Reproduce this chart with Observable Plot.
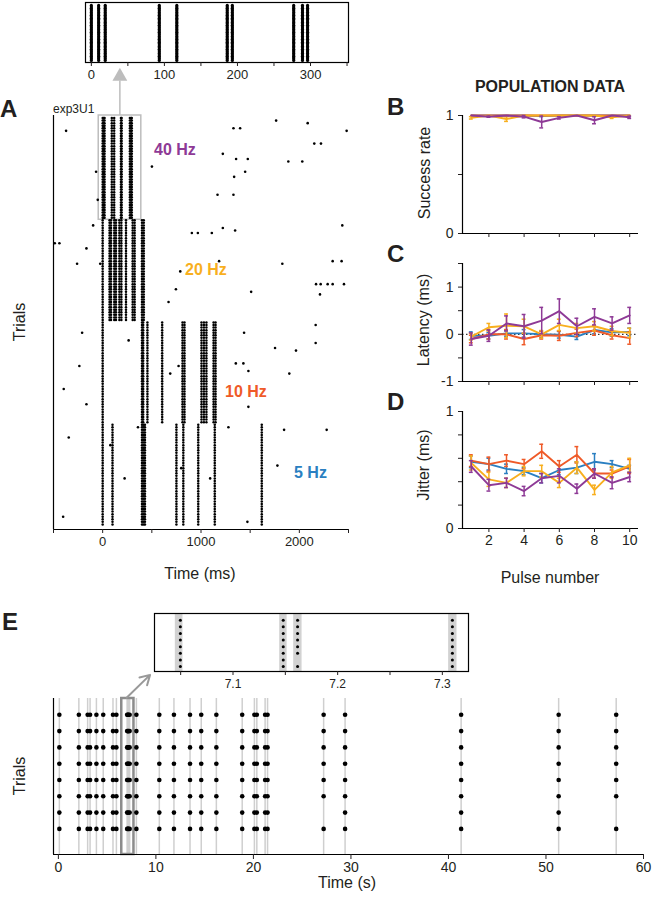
<!DOCTYPE html>
<html><head><meta charset="utf-8">
<script src="https://cdn.jsdelivr.net/npm/d3@7"></script>
<script src="https://cdn.jsdelivr.net/npm/@observablehq/plot@0.6"></script>
<style>
html,body{margin:0;padding:0;background:#fff;}
#wrap{position:relative;width:652px;height:901px;overflow:hidden;background:#fff;}
</style></head><body><div id="wrap"></div>
<script>
// ---------------- DATA ----------------
// Panel A raster: four stimulation blocks, spike-time columns (ms) repeated over the block's trials
const blockNames = ["40 Hz", "20 Hz", "10 Hz", "5 Hz"];
const blockFirstTrial = [1, 41, 81, 121];
const blockLastTrial = [40, 80, 120, 160];
const spikeCols40 = [0, 10, 19, 93, 117, 186, 193, 277, 289, 296];
const spikeCols20 = [0, 70, 85, 118, 135, 170, 190, 237, 305, 325, 400, 418];
const spikeCols10 = [0, 400, 412, 455, 605, 812, 832, 1005, 1030, 1055, 1128, 1148];
const spikeCols5 = [0, 100, 400, 415, 430, 750, 820, 972, 1140, 1618];
// isolated spikes in panel A (time ms, trial)
const strayTimes = [-372,-67,-50,-97,-487,-440,-165,-260,-25,501,789,745,670,1222,1168,1330,1222,1347,907,968,1110,1184,1330,1398,1764,2085,2481,2152,2220,1357,1476,1888,2030,1449,1337,2437,1827,2339,2430,2170,2217,2288,2339,2454,2210,1510,2166,1438,1753,2166,1966,1354,1431,1482,1898,1482,1279,1845,2278,1777,1472,-209,264,-237,687,772,-396,-165,-345,359,78,799,223,1093,-402];
const strayTrials = [6,22,33,43,50,50,52,58,58,20,61,68,73,15,31,31,44,45,46,46,46,57,5,5,2,3,6,11,11,17,17,18,18,22,24,43,58,57,57,66,66,66,66,66,70,69,82,85,91,89,92,97,97,100,101,114,122,123,123,137,159,85,88,98,101,98,107,113,126,122,129,138,142,142,157];
const aTickValues = [-500, 0, 500, 1000, 1500, 2000, 2500];
const aTickLabels = ["", "0", "", "1000", "", "2000", ""];
const aInsetTickValues = [0, 50, 100, 150, 200, 250, 300, 350];
const aInsetTickLabels = ["0", "", "100", "", "200", "", "300", ""];

// Population data (B, C, D): series order 5, 10, 20, 40 Hz
const seriesNames = ["5 Hz", "10 Hz", "20 Hz", "40 Hz"];
const seriesColors = ["#2a7fc1", "#ef5a28", "#f8af1e", "#8e3a96"];
const pulses = [1, 2, 3, 4, 5, 6, 7, 8, 9, 10];
const successMean = [
  [1, 1, 1, 1, 0.995, 1, 1, 1, 1, 1],
  [1, 1, 1, 1, 1, 1, 1, 1, 1, 1],
  [0.98, 1, 0.97, 1, 1, 1, 1, 1, 0.985, 1],
  [1, 0.99, 1, 0.99, 0.945, 0.98, 1, 0.96, 1, 0.985]
];
const successErr = [
  [0, 0, 0, 0, 0.005, 0, 0, 0, 0, 0],
  [0, 0, 0, 0, 0, 0, 0, 0, 0, 0],
  [0.01, 0, 0.02, 0, 0, 0, 0, 0, 0.01, 0],
  [0, 0.005, 0, 0.01, 0.05, 0.01, 0, 0.03, 0, 0.01]
];
const latencyMean = [
  [-0.03, -0.03, 0.02, 0.02, 0.0, -0.01, -0.05, 0.09, 0.04, 0.05],
  [-0.1, 0.0, 0.0, -0.1, -0.02, -0.03, 0.03, 0.08, -0.02, -0.08],
  [-0.05, 0.15, 0.18, 0.17, 0.0, 0.2, 0.13, 0.17, 0.07, 0.03],
  [-0.1, -0.03, 0.23, 0.17, 0.29, 0.49, 0.17, 0.37, 0.23, 0.4]
];
const latencyErr = [
  [0.08, 0.07, 0.06, 0.08, 0.07, 0.07, 0.06, 0.08, 0.08, 0.08],
  [0.08, 0.1, 0.1, 0.12, 0.08, 0.1, 0.08, 0.1, 0.08, 0.13],
  [0.07, 0.08, 0.25, 0.15, 0.08, 0.12, 0.1, 0.1, 0.1, 0.1],
  [0.13, 0.12, 0.16, 0.25, 0.28, 0.26, 0.17, 0.17, 0.14, 0.17]
];
const jitterMean = [
  [0.57, 0.55, 0.51, 0.49, 0.43, 0.5, 0.52, 0.57, 0.55, 0.51],
  [0.58, 0.55, 0.58, 0.55, 0.66, 0.53, 0.63, 0.47, 0.47, 0.53],
  [0.56, 0.42, 0.39, 0.49, 0.49, 0.39, 0.52, 0.33, 0.48, 0.54],
  [0.53, 0.37, 0.39, 0.32, 0.43, 0.45, 0.34, 0.47, 0.39, 0.44]
];
const jitterErr = [
  [0.05, 0.05, 0.04, 0.03, 0.04, 0.04, 0.05, 0.07, 0.03, 0.03],
  [0.05, 0.06, 0.05, 0.04, 0.06, 0.05, 0.07, 0.04, 0.03, 0.06],
  [0.06, 0.06, 0.04, 0.04, 0.05, 0.04, 0.05, 0.04, 0.05, 0.06],
  [0.05, 0.05, 0.04, 0.04, 0.04, 0.06, 0.04, 0.04, 0.05, 0.04]
];
const pulseTicks = [2, 4, 6, 8, 10];
const successTicks = [0, 0.5, 1], successTickLabels = ["0", "", "1"];
const latencyTicks = [-1, -0.5, 0, 0.5, 1, 1.5], latencyTickLabels = ["-1", "", "0", "", "1", ""];
const jitterTicks = [0, 0.2, 0.4, 0.6, 0.8, 1], jitterTickLabels = ["0", "", "", "", "", "1"];

// Panel E: spike times (s) in 8 trials
const eTrials = [1, 2, 3, 4, 5, 6, 7, 8];
const eSpikeTimes = [0.1, 2.1, 3.0, 3.25, 3.9, 4.6, 5.6, 5.95, 7.0497, 7.148, 7.1617, 7.3096, 8.0, 10.35, 11.85, 13.5, 14.65, 16.2, 18.85, 20.1, 20.35, 21.2, 21.45, 27.2, 29.4, 41.3, 51.3, 57.2];
const eMissingTime = [7.1617, 27.2, 57.2];
const eMissingTrial = [7, 7, 7];
const eTicks = [0, 10, 20, 30, 40, 50, 60];
const eInsetBandStart = [7.0449, 7.1446, 7.158, 7.306];
const eInsetBandEnd = [7.0522, 7.1517, 7.166, 7.314];
const eInsetTickValues = [7.05, 7.1, 7.15, 7.2, 7.25, 7.3];
const eInsetTickLabels = ["", "7.1", "", "7.2", "", "7.3"];

// ---------------- BUILD ----------------
const FONT = '"Liberation Sans", Arial, Helvetica, sans-serif';
const S = `background:transparent;overflow:visible;font-family:${FONT};color:#231f20;`;
const wrap = document.getElementById("wrap");
function place(el, left, top) {
  el.style.position = "absolute"; el.style.left = left + "px"; el.style.top = top + "px";
  wrap.appendChild(el);
}
const mapOf = (vals, labs) => new Map(vals.map((v, i) => [v, labs[i]]));

// raster A rows
const blockCols = [spikeCols40, spikeCols20, spikeCols10, spikeCols5];
const aDots = [];
blockCols.forEach((cols, b) => {
  for (let tr = blockFirstTrial[b]; tr <= blockLastTrial[b]; tr++)
    for (const t of cols) aDots.push({t, tr});
});
const strays = strayTimes.map((t, i) => ({t, tr: strayTrials[i]}));
const insetDots = aDots.filter(d => d.tr <= blockLastTrial[0]);

// Top inset (zoom of 40 Hz block)
const aTickMap = mapOf(aInsetTickValues, aInsetTickLabels);
place(Plot.plot({
  width: 300, height: 85, marginLeft: 25, marginRight: 12, marginTop: 2, marginBottom: 23, style: S,
  x: {domain: [-8, 352]}, y: {domain: [41.4, -1.1], axis: null},
  marks: [
    Plot.dot(insetDots, {x: "t", y: "tr", r: 1.6, fill: "#000", stroke: "none"}),
    Plot.frame({stroke: "#000", strokeWidth: 1.2}),
    Plot.axisX({ticks: aInsetTickValues, tickFormat: d => aTickMap.get(d) ?? "", tickSize: 4, tickPadding: 3, fontSize: 13, label: null})
  ]
}), 60, 0);

// Panel A
const aMap = mapOf(aTickValues, aTickLabels);
place(Plot.plot({
  width: 360, height: 490, marginLeft: 53, marginRight: 12, marginTop: 15, marginBottom: 61, style: S,
  x: {domain: [-500, 2500]}, y: {domain: [162, 0], axis: null},
  marks: [
    Plot.rect([0], {x1: -40, x2: 393, y1: 0, y2: 40.8, fill: "none", stroke: "#bdbdbd", strokeWidth: 1.5}),
    Plot.ruleX([175], {y1: -13.5, y2: 0, stroke: "#bdbdbd", strokeWidth: 1.5}),
    Plot.dot([175], {x: d => d, y: -15.3, symbol: "triangle", r: 5.5, fill: "#bdbdbd", stroke: "none"}),
    Plot.dot(aDots, {x: "t", y: "tr", r: 1.25, fill: "#000", stroke: "none"}),
    Plot.dot(strays, {x: "t", y: "tr", r: 1.3, fill: "#000", stroke: "none"}),
    Plot.ruleY([162], {stroke: "#000", strokeWidth: 1.2}),
    Plot.ruleX([-500], {stroke: "#000", strokeWidth: 1.2}),
    Plot.axisX({ticks: aTickValues, tickFormat: d => aMap.get(d) ?? "", tickSize: 4, tickPadding: 3, fontSize: 13, label: null})
  ]
}), 0, 100);

// Population panels
function popPanel(cfg) {
  const marks = [];
  if (cfg.zeroLine) marks.push(Plot.ruleY([0], {stroke: "#000", strokeWidth: 1, strokeDasharray: "1.5,2.5"}));
  seriesNames.forEach((name, k) => {
    const rows = pulses.map((p, i) => ({p, v: cfg.values[k][i], e: cfg.errors[k][i]}));
    const eb = rows.filter(d => d.e > 0);
    const c = seriesColors[k];
    marks.push(
      Plot.ruleX(eb, {x: "p", y1: d => d.v - d.e, y2: d => d.v + d.e, stroke: c, strokeWidth: 1.5}),
      Plot.ruleY(eb, {y: d => d.v + d.e, x1: d => d.p - 0.11, x2: d => d.p + 0.11, stroke: c, strokeWidth: 1.5}),
      Plot.ruleY(eb, {y: d => d.v - d.e, x1: d => d.p - 0.11, x2: d => d.p + 0.11, stroke: c, strokeWidth: 1.5}),
      Plot.line(rows, {x: "p", y: "v", stroke: c, strokeWidth: 1.9})
    );
  });
  const ym = mapOf(cfg.yTicks, cfg.yLabels);
  marks.push(
    Plot.ruleX([0.5], {stroke: "#000", strokeWidth: 1.2}),
    Plot.ruleY([cfg.yDomain[0]], {stroke: "#000", strokeWidth: 1.2}),
    Plot.axisY({ticks: cfg.yTicks, tickFormat: d => ym.get(d) ?? "", tickSize: 4, tickPadding: 5, fontSize: 14, label: null}),
    Plot.axisX({ticks: pulseTicks, tickFormat: d => cfg.xLabels ? String(d) : "", tickSize: 4, tickPadding: 3, fontSize: 14, label: null})
  );
  return Plot.plot({
    width: 272, height: cfg.height, marginLeft: 82, marginRight: 14, marginTop: cfg.mt, marginBottom: cfg.mb, style: S,
    x: {domain: [0.5, 10.5]}, y: {domain: cfg.yDomain}, marks
  });
}
place(popPanel({height: 140, mt: 15, mb: 7, yDomain: [0, 1], yTicks: successTicks, yLabels: successTickLabels,
  values: successMean, errors: successErr}), 380, 100);
place(popPanel({height: 133, mt: 8, mb: 7, yDomain: [-1, 1.5], yTicks: latencyTicks, yLabels: latencyTickLabels,
  values: latencyMean, errors: latencyErr, zeroLine: true}), 380, 255);
place(popPanel({height: 150, mt: 11, mb: 22, yDomain: [0, 1], yTicks: jitterTicks, yLabels: jitterTickLabels,
  values: jitterMean, errors: jitterErr, xLabels: true}), 380, 400);

// Panel E
const missing = new Set(eMissingTime.map((t, i) => t + "|" + eMissingTrial[i]));
const eDots = [];
for (const t of eSpikeTimes) for (const tr of eTrials) if (!missing.has(t + "|" + tr)) eDots.push({t, tr});

const eiMap = mapOf(eInsetTickValues, eInsetTickLabels);
const bands = eInsetBandStart.map((s, i) => ({s, e: eInsetBandEnd[i]}));
place(Plot.plot({
  width: 340, height: 100, marginLeft: 14, marginRight: 12, marginTop: 13, marginBottom: 29, style: S,
  x: {domain: [7.025, 7.325]}, y: {domain: [8.75, 0], axis: null},
  marks: [
    Plot.rect(bands, {x1: "s", x2: "e", y1: 0, y2: 8.75, fill: "#d2d2d2"}),
    Plot.dot(eDots.filter(d => d.t > 7.025 && d.t < 7.325), {x: "t", y: "tr", r: 1.5, fill: "#000", stroke: "none"}),
    Plot.frame({stroke: "#000", strokeWidth: 1.2}),
    Plot.axisX({ticks: eInsetTickValues, tickFormat: d => eiMap.get(d) ?? "", tickSize: 4, tickPadding: 4, fontSize: 12, label: null})
  ]
}), 140, 600);

place(Plot.plot({
  width: 652, height: 206, marginLeft: 53, marginRight: 9, marginTop: 3, marginBottom: 47, style: S,
  x: {domain: [-0.5, 60]}, y: {domain: [9.57, 0], axis: null},
  marks: [
    Plot.ruleX(eSpikeTimes, {stroke: "#cfcfcf", strokeWidth: 1.5}),
    Plot.rect([0], {x1: 6.5, x2: 7.75, y1: 0, y2: 9.57, fill: "none", stroke: "#8c8c8c", strokeWidth: 2.5}),
    Plot.dot(eDots, {x: "t", y: "tr", r: 2.3, fill: "#000", stroke: "none"}),
    Plot.arrow([0], {x1: 7.0, y1: -0.05, x2: 9.4, y2: -1.45, stroke: "#999", strokeWidth: 2, headLength: 9}),
    Plot.ruleY([9.57], {stroke: "#000", strokeWidth: 1.2}),
    Plot.ruleX([-0.5], {stroke: "#000", strokeWidth: 1.2}),
    Plot.axisX({ticks: eTicks, tickSize: 5, tickPadding: 3, fontSize: 14, label: null})
  ]
}), 0, 695);

// Text annotations
const texts = [
  {t: "A", x: 0, y: 117, s: 24, b: true},
  {t: "B", x: 387, y: 115, s: 24, b: true},
  {t: "C", x: 387, y: 262, s: 24, b: true},
  {t: "D", x: 387, y: 410, s: 24, b: true},
  {t: "E", x: 2, y: 630, s: 24, b: true},
  {t: "exp3U1", x: 53, y: 113, s: 12},
  {t: "POPULATION DATA", x: 550, y: 92, s: 16, b: true, a: "middle"},
  {t: "Success rate", x: 430, y: 173, s: 16, a: "middle", r: true},
  {t: "Latency (ms)", x: 428.5, y: 320, s: 16, a: "middle", r: true},
  {t: "Jitter (ms)", x: 429, y: 465, s: 16, a: "middle", r: true},
  {t: "Pulse number", x: 550, y: 583, s: 16, a: "middle"},
  {t: "Trials", x: 25, y: 322, s: 16, a: "middle", r: true},
  {t: "Time (ms)", x: 200, y: 579, s: 16, a: "middle"},
  {t: "Trials", x: 25, y: 776, s: 16, a: "middle", r: true},
  {t: "Time (s)", x: 347, y: 888, s: 16, a: "middle"},
  {t: blockNames[0], x: 154, y: 155, s: 16, b: true, c: seriesColors[3]},
  {t: blockNames[1], x: 185, y: 275, s: 16, b: true, c: seriesColors[2]},
  {t: blockNames[2], x: 225, y: 397, s: 16, b: true, c: seriesColors[1]},
  {t: blockNames[3], x: 294, y: 478, s: 16, b: true, c: seriesColors[0]}
];
const ov = d3.create("svg").attr("width", 652).attr("height", 901)
  .style("position", "absolute").style("left", "0px").style("top", "0px")
  .style("overflow", "visible").style("font-family", FONT);
for (const d of texts) {
  const g = ov.append("text").attr("x", d.x).attr("y", d.y).attr("font-size", d.s)
    .attr("font-weight", d.b ? "bold" : "normal").attr("text-anchor", d.a || "start")
    .attr("fill", d.c || "#231f20").text(d.t);
  if (d.r) g.attr("transform", `rotate(-90 ${d.x} ${d.y})`);
}
wrap.appendChild(ov.node());
</script></body></html>
